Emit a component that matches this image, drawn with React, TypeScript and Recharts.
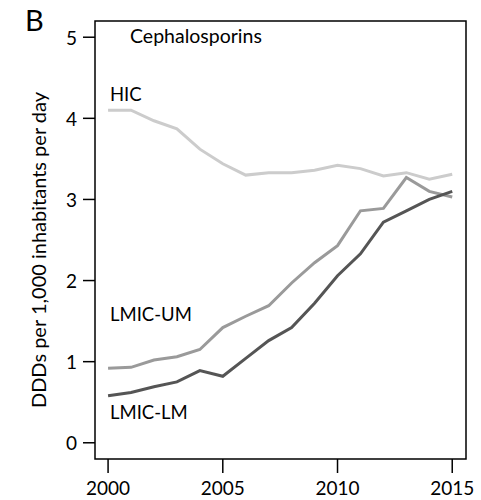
import { LineChart, Line, XAxis, YAxis, ReferenceArea } from "recharts";

const years = [2000, 2001, 2002, 2003, 2004, 2005, 2006, 2007, 2008, 2009, 2010, 2011, 2012, 2013, 2014, 2015];
const hic = [4.1, 4.1, 3.97, 3.87, 3.62, 3.44, 3.3, 3.33, 3.33, 3.36, 3.42, 3.38, 3.29, 3.33, 3.25, 3.31];
const lmicUm = [0.92, 0.93, 1.02, 1.06, 1.15, 1.42, 1.56, 1.69, 1.97, 2.22, 2.43, 2.86, 2.89, 3.27, 3.1, 3.03];
const lmicLm = [0.58, 0.62, 0.69, 0.75, 0.89, 0.82, 1.04, 1.26, 1.42, 1.72, 2.06, 2.33, 2.72, 2.86, 3.0, 3.1];
const xTicks = [2000, 2005, 2010, 2015];
const yTicks = [0, 1, 2, 3, 4, 5];

const data = years.map((y, i) => ({ year: y, hic: hic[i], um: lmicUm[i], lm: lmicLm[i] }));

const font = "Lato, 'Open Sans', sans-serif";
const X_DOMAIN: [number, number] = [1999.43, 2015.6];
const Y_DOMAIN: [number, number] = [-0.2, 5.2];

const XTick = (props: any) => (
  <text x={props.x} y={props.y + 12} textAnchor="middle" dominantBaseline="central" fontSize={19} fontFamily={font} fill="#000">
    {props.payload.value}
  </text>
);

const YTick = (props: any) => (
  <text x={props.x - 4} y={props.y} textAnchor="end" dominantBaseline="central" fontSize={19} fontFamily={font} fill="#000">
    {props.payload.value}
  </text>
);

export default function App() {
  return (
    <div style={{ position: "absolute", left: 0, top: 0, background: "#fff" }}>
      <svg width={481} height={500} style={{ position: "absolute", left: 0, top: 0, pointerEvents: "none" }}>
        <text x={25} y={31} fontSize={29} fontFamily={font} fill="#000">B</text>
        <text x={130} y={43} fontSize={19.5} fontFamily={font} fill="#000">Cephalosporins</text>
        <text x={110} y={101} fontSize={18.5} fontFamily={font} fill="#000">HIC</text>
        <text x={110} y={321} fontSize={18.5} fontFamily={font} fill="#000">LMIC-UM</text>
        <text x={110} y={419} fontSize={18.5} fontFamily={font} fill="#000">LMIC-LM</text>
        <text
          x={38}
          y={250}
          transform="rotate(-90 38 250)"
          textAnchor="middle"
          dominantBaseline="central"
          fontSize={20}
          fontFamily={font}
          fill="#000"
        >
          DDDs per 1,000 inhabitants per day
        </text>
      </svg>
      <LineChart width={481} height={500} data={data} margin={{ top: 21, right: 15, bottom: 0, left: 0 }}>
        <XAxis
          dataKey="year"
          type="number"
          domain={X_DOMAIN}
          ticks={xTicks}
          allowDataOverflow
          height={41}
          axisLine={false}
          tickSize={14}
          tickLine={{ stroke: "#000", strokeWidth: 1.5 }}
          tick={XTick}
        />
        <YAxis
          type="number"
          domain={Y_DOMAIN}
          ticks={yTicks}
          allowDataOverflow
          width={95}
          axisLine={false}
          tickSize={12}
          tickLine={{ stroke: "#000", strokeWidth: 1.5 }}
          tick={YTick}
        />
        <ReferenceArea
          x1={X_DOMAIN[0]}
          x2={X_DOMAIN[1]}
          y1={Y_DOMAIN[0]}
          y2={Y_DOMAIN[1]}
          fill="none"
          stroke="#000"
          strokeWidth={1.5}
          ifOverflow="visible"
        />
        <Line dataKey="hic" stroke="#cccccc" strokeWidth={3} dot={false} isAnimationActive={false} />
        <Line dataKey="um" stroke="#9a9a9a" strokeWidth={3} dot={false} isAnimationActive={false} />
        <Line dataKey="lm" stroke="#555555" strokeWidth={3} dot={false} isAnimationActive={false} />
      </LineChart>
    </div>
  );
}
